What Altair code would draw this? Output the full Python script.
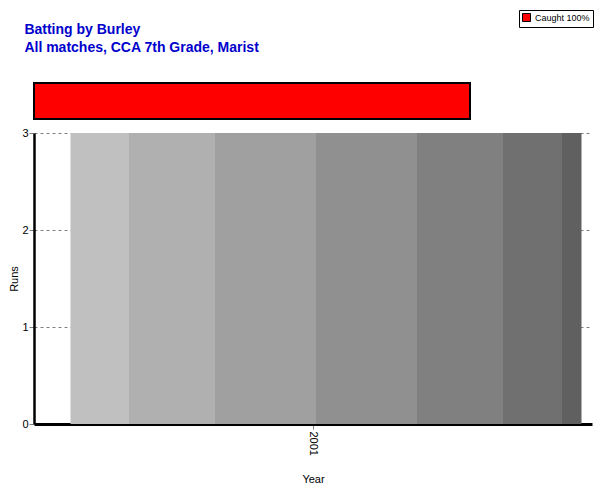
import altair as alt
import pandas as pd

# ---- data ----
years = ["2001"]
runs = [3]
dismissal_types = ["Caught"]
dismissal_pcts = [100]

# ---- styles ----
FONT = "Liberation Sans"
band_offsets = [0.114, 0.282, 0.480, 0.678, 0.847, 0.961]
band_colors = ["#c0c0c0", "#b0b0b0", "#a0a0a0", "#909090", "#808080", "#707070", "#606060"]

stops = []
prev = 0.0
for i, c in enumerate(band_colors):
    end = band_offsets[i] if i < len(band_offsets) else 1.0
    stops.append(alt.GradientStop(offset=prev, color=c))
    stops.append(alt.GradientStop(offset=end, color=c))
    prev = end
grad = alt.Gradient(gradient="linear", stops=stops, x1=0, x2=1, y1=0, y2=0)

main_df = pd.DataFrame({"Year": years, "Runs": runs})
dis_df = pd.DataFrame({
    "type": dismissal_types,
    "pct": dismissal_pcts,
    "label": [f"{t} {p}%" for t, p in zip(dismissal_types, dismissal_pcts)],
})

top = alt.Chart(dis_df).mark_bar(stroke="black", strokeWidth=2).encode(
    x=alt.X("pct:Q", axis=None, scale=alt.Scale(domain=[0, 100])),
    y=alt.Y("type:N", axis=None, scale=alt.Scale(paddingInner=0, paddingOuter=0)),
    color=alt.Color(
        "label:N",
        scale=alt.Scale(range=["#ff0000"]),
        legend=alt.Legend(
            title=None, orient="none", legendX=485, legendY=-73,
            symbolType="square", symbolSize=64, symbolStrokeColor="black",
            symbolStrokeWidth=1, strokeColor="black", padding=3,
            labelFont=FONT, labelFontSize=9, labelColor="black",
        ),
    ),
).properties(width=436, height=36)

main = alt.Chart(main_df).mark_bar(color=grad, xOffset=13).encode(
    x=alt.X("Year:N", title="Year",
            scale=alt.Scale(paddingInner=0, paddingOuter=0.046),
            axis=alt.Axis(labelAngle=90, labelFont=FONT, labelFontSize=11, labelColor="black",
                          titleFont=FONT, titleFontSize=11, titleFontWeight="normal",
                          titleColor="black", titlePadding=18,
                          domainColor="black", domainWidth=3, tickColor="#808080",
                          tickSize=5, labelPadding=2)),
    y=alt.Y("Runs:Q", title="Runs",
            scale=alt.Scale(domain=[0, 3], nice=False),
            axis=alt.Axis(values=[0, 1, 2, 3], format="d", labelFont=FONT, labelFontSize=11,
                          labelColor="black", titleFont=FONT, titleFontSize=11,
                          titleFontWeight="normal", titleColor="black", titlePadding=2.5,
                          domainColor="black", domainWidth=2.5, tickColor="#808080",
                          tickSize=5, labelPadding=1,
                          grid=True, gridColor="#808080", gridDash=[3, 3], gridWidth=1)),
).properties(width=558, height=291)

chart = alt.vconcat(top, main, spacing=7).properties(
    title=alt.TitleParams(
        text=["Batting by Burley", "All matches, CCA 7th Grade, Marist"],
        anchor="start", frame="bounds", color="#0000CC", font=FONT, fontSize=14,
        fontWeight="bold", lineHeight=18, offset=-45, dx=16,
    ),
    padding={"left": 0, "top": 1, "right": 0, "bottom": 0},
    background="white",
).configure_view(stroke=None)

chart.save("out.html", embed_options={"renderer": "svg", "actions": False})
